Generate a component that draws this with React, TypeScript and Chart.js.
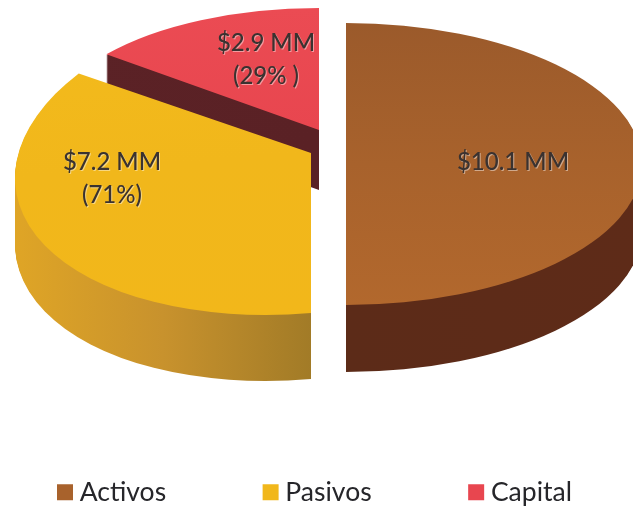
import { useEffect, useRef } from "react";
import { Chart, registerables } from "chart.js";

Chart.register(...registerables);

const categories = ["Activos", "Pasivos", "Capital"];
const amounts = [10.1, 7.2, 2.9];
const topColors = ["#A8622C", "#F1B71B", "#E8464F"];
const calloutLines = [["$10.1 MM"], ["$7.2 MM", "(71%)"], ["$2.9 MM", "(29% )"]];

// Projection of each slice of the tilted pie (apex, radius vectors, wall height).
const projection = [
  { ax: 346, ay: 164, ux: 296, uy: 0, vx: 0, vy: 141, depth: 67 },
  { ax: 311, ay: 153, ux: 296, uy: -25, vx: 0, vy: 160, depth: 66 },
  { ax: 319, ay: 130, ux: 271, uy: 0, vx: 0, vy: 122, depth: 60 },
];
const topStops = [
  ["#9B5A2B", "#A8622C", "#B2682D"],
  ["#F3BB1C", "#F1B71B", "#F2B71A"],
  ["#EB4B53", "#E8464F", "#E5434D"],
];
const wallStops = [
  ["#5A2A17", "#5C2B18", "#5E2B18"],
  ["#DFA526", "#C8922D", "#A27B27"],
  ["#5B2226", "#5A2125", "#552024"],
];
const calloutAnchors = [
  { x: 513, y: 162 },
  { x: 112, y: 162 },
  { x: 266, y: 43 },
];
const calloutLineHeight = 33;
const drawOrder = [2, 1, 0];
const legendGap = 103;
const legendStartX = 63.5;
const legendRowTop = 479;

const gradient = (ctx: CanvasRenderingContext2D, x0: number, y0: number, x1: number, y1: number, stops: string[]) => {
  const g = ctx.createLinearGradient(x0, y0, x1, y1);
  stops.forEach((c, i) => g.addColorStop(i / (stops.length - 1), c));
  return g;
};

const tiltedPie = {
  id: "tiltedPie",
  afterLayout(chart: any) {
    // One wide row: the legend may run as far as the picture needs.
    const legend = chart.legend;
    legend.left = legendStartX - legendGap;
    legend.right = 2000;
    legend.top = legendRowTop - legendGap;
    legend.bottom = legend.top + 2 * legendGap + 30;
    legend.lineWidths = [2000];
  },
  beforeDatasetsDraw(chart: any) {
    const ctx: CanvasRenderingContext2D = chart.ctx;
    const arcs = chart.getDatasetMeta(0).data;
    drawOrder.forEach((i) => {
      const arc = arcs[i];
      const p = projection[i];
      const R = arc.outerRadius;
      const place = (dy: number) => {
        ctx.save();
        ctx.translate(0, dy);
        ctx.transform(p.ux / R, p.uy / R, p.vx / R, p.vy / R, p.ax, p.ay);
        ctx.translate(-arc.x, -arc.y);
      };
      const wall = Object.create(arc);
      wall.options = {
        ...arc.options,
        borderWidth: 0,
        backgroundColor: gradient(ctx, arc.x - R, 0, arc.x + (i === 1 ? 0 : R), 0, wallStops[i]),
      };
      for (let d = p.depth; d > 0; d--) {
        place(d);
        wall.draw(ctx);
        ctx.restore();
      }
      const top = Object.create(arc);
      top.options = {
        ...arc.options,
        borderWidth: 0,
        backgroundColor: gradient(ctx, 0, arc.y - R, 0, arc.y + R, topStops[i]),
      };
      place(0);
      top.draw(ctx);
      ctx.restore();
    });
    return false;
  },
  afterDraw(chart: any) {
    const ctx: CanvasRenderingContext2D = chart.ctx;
    ctx.save();
    ctx.font = "500 24px Lato";
    ctx.textAlign = "center";
    ctx.textBaseline = "middle";
    calloutLines.forEach((lines, i) => {
      lines.forEach((line, j) => {
        const x = calloutAnchors[i].x;
        const y = calloutAnchors[i].y + j * calloutLineHeight;
        ctx.fillStyle = "rgba(255,255,255,0.45)";
        ctx.fillText(line, x + 1, y + 1);
        ctx.fillStyle = "#3A3230";
        ctx.fillText(line, x, y);
      });
    });
    ctx.restore();
  },
};

export default function App() {
  const ref = useRef<HTMLCanvasElement>(null);
  useEffect(() => {
    document.body.style.margin = "0";
    document.body.style.background = "#FFFFFF";
    const chart = new Chart(ref.current!, {
      type: "pie",
      data: {
        labels: categories,
        datasets: [{ data: amounts, backgroundColor: topColors, borderWidth: 0, radius: 100 } as any],
      },
      options: {
        responsive: false,
        animation: false,
        events: [],
        plugins: {
          tooltip: { enabled: false },
          legend: {
            position: "bottom",
            align: "start",
            labels: {
              usePointStyle: true,
              pointStyle: "rect",
              boxWidth: 3,
              boxHeight: 16,
              padding: legendGap,
              color: "#26262A",
              font: { family: "Lato", size: 26.5 },
            },
          },
        },
      },
      plugins: [tiltedPie],
    } as any);
    return () => chart.destroy();
  }, []);
  return <canvas ref={ref} width={633} height={506} style={{ display: "block" }} />;
}
